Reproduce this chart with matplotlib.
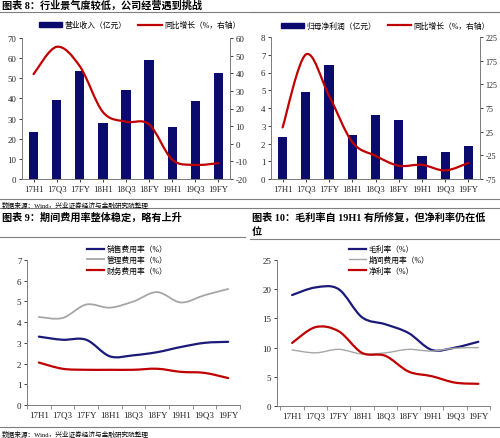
import numpy as np
import matplotlib
matplotlib.use("Agg")
import matplotlib.pyplot as plt
from matplotlib.path import Path
from matplotlib.patches import PathPatch
from matplotlib.lines import Line2D

plt.rcParams['font.family'] = ['Liberation Serif', 'Noto Sans CJK SC']
plt.rcParams['axes.unicode_minus'] = False

periods = ['17H1', '17Q3', '17FY', '18H1', '18Q3', '18FY', '19H1', '19Q3', '19FY']

# chart 8
revenue = [23.5, 39.0, 53.5, 28.0, 44.0, 59.2, 25.7, 38.6, 52.4]
revenue_yoy = [39.5, 55.0, 44.0, 18.0, 12.5, 11.0, -9.0, -12.0, -11.0]
# chart (right top)
profit = [2.35, 4.9, 6.4, 2.48, 3.6, 3.35, 1.3, 1.5, 1.88]
profit_yoy = [34, 188, 101, 3, -26, -47, -45, -57, -41]
# chart 9
sales_rate = [3.3, 3.15, 3.15, 2.35, 2.4, 2.55, 2.8, 3.0, 3.05]
admin_rate = [4.25, 4.2, 4.85, 4.7, 5.0, 5.45, 4.95, 5.3, 5.6]
fin_rate = [2.05, 1.75, 1.7, 1.7, 1.7, 1.75, 1.6, 1.55, 1.3]
# chart 10
gross_margin = [19.0, 20.3, 20.0, 15.2, 14.0, 12.5, 9.6, 10.0, 11.0]
period_rate = [9.6, 9.1, 9.7, 8.9, 9.1, 9.7, 9.4, 9.9, 10.0]
net_margin = [10.8, 13.5, 12.8, 9.1, 8.6, 5.9, 5.1, 4.0, 3.8]

NAVY = '#0b0b6e'
RED = '#c00000'
GRAY = '#a6a6a6'
BLUE = '#1a1a78'

W, H = 500, 439
fig = plt.figure(figsize=(5, 4.39), dpi=100)


def box(x0, y0, x1, y1):
    return [x0 / W, 1 - y1 / H, (x1 - x0) / W, (y1 - y0) / H]


def hline(y, x0=0, x1=W, color='#7f7f7f', lw=0.8):
    fig.add_artist(Line2D([x0 / W, x1 / W], [1 - y / H, 1 - y / H], color=color, lw=lw))


def text(x, y, s, **kw):
    fig.text(x / W, 1 - y / H, s, va='center', ha='left', **kw)


def smooth(ax, xs, ys, color, lw):
    # catmull-rom spline as cubic bezier path (excel-like smoothed line)
    pts = np.column_stack([xs, ys]).astype(float)
    ext = np.vstack([pts[0], pts, pts[-1]])
    verts = [pts[0]]
    codes = [Path.MOVETO]
    for i in range(1, len(ext) - 2):
        p0, p1, p2, p3 = ext[i - 1], ext[i], ext[i + 1], ext[i + 2]
        verts += [p1 + (p2 - p0) / 6, p2 - (p3 - p1) / 6, p2]
        codes += [Path.CURVE4] * 3
    ax.add_patch(PathPatch(Path(verts, codes), fill=False, edgecolor=color, lw=lw,
                           capstyle='round', joinstyle='round'))


def style(ax, fs=6.3):
    ax.tick_params(labelsize=fs, length=2, width=0.6, colors='#222222', pad=2)
    for s in ax.spines.values():
        s.set_color('#7f7f7f')
        s.set_linewidth(0.7)


x = np.arange(len(periods))
LEGFS = 5.6
TFS = 7.3

# ---------------- 图表 8
text(2, 6, '图表 8：行业景气度较低，公司经营遇到挑战', fontsize=TFS, fontweight='bold')
hline(13)
ax1 = fig.add_axes(box(22, 39, 230, 180))
ax1.bar(x, revenue, width=0.4, color=NAVY)
ax1.set_xlim(-0.5, 8.5)
ax1.set_ylim(0, 70)
ax1.set_yticks(range(0, 71, 10))
ax1.set_xticks(x)
ax1.set_xticklabels(periods)
ax1.spines['top'].set_visible(False)
style(ax1)
ax1r = ax1.twinx()
ax1r.set_ylim(-20, 60)
ax1r.set_yticks(range(-20, 61, 10))
ax1r.spines['top'].set_visible(False)
style(ax1r)
smooth(ax1r, x, revenue_yoy, RED, 1.6)
leg = [plt.Rectangle((0, 0), 1, 1, color=NAVY), Line2D([], [], color=RED, lw=1.6)]
fig.legend(leg, ['营业收入（亿元）', '同比增长（%，右轴）'], loc='center left',
           bbox_to_anchor=(32 / W, 1 - 26 / H), ncol=2, frameon=False, fontsize=LEGFS,
           handlelength=3.0, handleheight=0.6, handletextpad=0.3, columnspacing=1.5)

# ---------------- 归母净利润
hline(13, 250, W)
ax2 = fig.add_axes(box(271, 38, 480, 180))
ax2.bar(x, profit, width=0.4, color=NAVY)
ax2.set_xlim(-0.5, 8.5)
ax2.set_ylim(0, 8)
ax2.set_yticks(range(0, 9))
ax2.set_xticks(x)
ax2.set_xticklabels(periods)
ax2.spines['top'].set_visible(False)
style(ax2)
ax2r = ax2.twinx()
ax2r.set_ylim(-75, 225)
ax2r.set_yticks(range(-75, 226, 50))
ax2r.spines['top'].set_visible(False)
style(ax2r, 5.8)
smooth(ax2r, x, profit_yoy, RED, 1.6)
fig.legend(leg, ['归母净利润（亿元）', '同比增长（%，右轴）'], loc='center left',
           bbox_to_anchor=(274 / W, 1 - 27 / H), ncol=2, frameon=False, fontsize=LEGFS,
           handlelength=3.0, handleheight=0.6, handletextpad=0.3, columnspacing=1.5)

hline(200)
text(2, 205, '数据来源：Wind，兴业证券经济与金融研究院整理', fontsize=4.8)
hline(209)

# ---------------- 图表 9
text(2, 218, '图表 9：期间费用率整体稳定，略有上升', fontsize=TFS, fontweight='bold')
hline(238, 0, 245)
ax3 = fig.add_axes(box(27, 261, 240, 406))
ax3.set_xlim(-0.5, 8.5)
ax3.set_ylim(0, 7)
ax3.set_yticks(range(0, 8))
ax3.set_xticks(x)
ax3.set_xticklabels(periods)
ax3.set_xticks(np.arange(-0.5, 9), minor=True)
for s in ['top', 'right']:
    ax3.spines[s].set_visible(False)
style(ax3, 6.5)
ax3.tick_params(axis='x', which='major', length=0, pad=4)
ax3.tick_params(axis='x', which='minor', length=3, width=0.6, color='#7f7f7f')
smooth(ax3, x, sales_rate, BLUE, 1.6)
smooth(ax3, x, admin_rate, GRAY, 1.3)
smooth(ax3, x, fin_rate, RED, 1.6)
h3 = [Line2D([], [], color=BLUE, lw=1.6), Line2D([], [], color=GRAY, lw=1.3),
      Line2D([], [], color=RED, lw=1.6)]
fig.legend(h3, ['销售费用率（%）', '管理费用率（%）', '财务费用率（%）'], loc='center left',
           bbox_to_anchor=(80 / W, 1 - 261 / H), frameon=False, fontsize=LEGFS,
           handlelength=2.2, handletextpad=0.3, labelspacing=0.35)

# ---------------- 图表 10
text(252, 218, '图表 10：毛利率自 19H1 有所修复，但净利率仍在低', fontsize=TFS, fontweight='bold')
text(252, 232, '位', fontsize=TFS, fontweight='bold')
hline(240, 250, W)
ax4 = fig.add_axes(box(277, 261, 490, 407))
ax4.set_xlim(-0.65, 8.5)
ax4.set_ylim(0, 25)
ax4.set_yticks(range(0, 26, 5))
ax4.set_xticks(x)
ax4.set_xticklabels(periods)
ax4.set_xticks(np.arange(-0.5, 9), minor=True)
for s in ['top', 'right']:
    ax4.spines[s].set_visible(False)
style(ax4, 6.5)
ax4.tick_params(axis='x', which='major', length=0, pad=4)
ax4.tick_params(axis='x', which='minor', length=3, width=0.6, color='#7f7f7f')
smooth(ax4, x, gross_margin, BLUE, 1.6)
smooth(ax4, x, period_rate, GRAY, 1.0)
smooth(ax4, x, net_margin, RED, 1.6)
h4 = [Line2D([], [], color=BLUE, lw=1.6), Line2D([], [], color=GRAY, lw=1.0),
      Line2D([], [], color=RED, lw=1.6)]
fig.legend(h4, ['毛利率（%）', '期间费用率（%）', '净利率（%）'], loc='center left',
           bbox_to_anchor=(342 / W, 1 - 261 / H), frameon=False, fontsize=LEGFS,
           handlelength=2.2, handletextpad=0.3, labelspacing=0.35)

hline(428)
text(2, 434, '数据来源：Wind，兴业证券经济与金融研究院整理', fontsize=4.8)

fig.savefig('out.png', dpi=100)
